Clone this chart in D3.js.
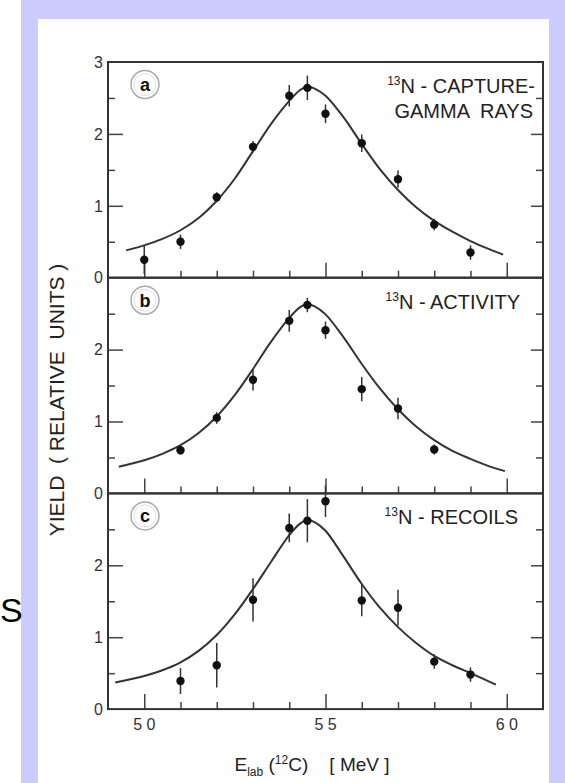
<!DOCTYPE html>
<html>
<head>
<meta charset="utf-8">
<script src="https://cdn.jsdelivr.net/npm/d3@7"></script>
<style>
body { margin: 0; background: #fff; }
text { font-family: "Liberation Sans", Arial, Helvetica, sans-serif; }
</style>
</head>
<body>
<div id="chart"></div>
<script>
const width = 565,
    height = 783
const frame = { left: 108, right: 543, top: 62, panelH: 215.7 }

// beam energy of each measured point, MeV
const energyA = [50, 51, 52, 53, 54, 54.5, 55, 56, 57, 58, 59]
const yieldA = [0.25, 0.50, 1.12, 1.82, 2.53, 2.64, 2.28, 1.87, 1.37, 0.74, 0.35]
const errA = [0.2, 0.10, 0.07, 0.08, 0.15, 0.17, 0.13, 0.12, 0.12, 0.08, 0.10]

const energyB = [51, 52, 53, 54, 54.5, 55, 56, 57, 58]
const yieldB = [0.60, 1.05, 1.58, 2.40, 2.62, 2.27, 1.45, 1.18, 0.61]
const errB = [0.06, 0.08, 0.15, 0.15, 0.10, 0.12, 0.17, 0.15, 0.07]

const energyC = [51, 52, 53, 54, 54.5, 55, 56, 57, 58, 59]
const yieldC = [0.39, 0.61, 1.52, 2.52, 2.62, 2.89, 1.51, 1.41, 0.66, 0.48]
const errC = [0.18, 0.31, 0.30, 0.20, 0.30, 0.22, 0.22, 0.25, 0.10, 0.10]

// solid curves
const fitEnergyA = [49.5, 50, 50.5, 51, 51.5, 52, 52.5, 53, 53.5, 54, 54.3, 54.5, 54.7, 55, 55.5, 56, 56.5, 57, 57.5, 58, 58.5, 59, 59.5, 59.9]
const fitYieldA = [0.38, 0.45, 0.54, 0.66, 0.83, 1.07, 1.38, 1.76, 2.14, 2.46, 2.61, 2.66, 2.63, 2.53, 2.23, 1.86, 1.51, 1.22, 0.98, 0.79, 0.64, 0.51, 0.40, 0.32]
const fitEnergyB = [49.3, 50, 50.5, 51, 51.5, 52, 52.5, 53, 53.5, 54, 54.3, 54.5, 54.7, 55, 55.5, 56, 56.5, 57, 57.5, 58, 58.5, 59, 59.5, 59.95]
const fitYieldB = [0.37, 0.46, 0.55, 0.67, 0.84, 1.07, 1.37, 1.73, 2.11, 2.44, 2.59, 2.63, 2.60, 2.49, 2.17, 1.80, 1.46, 1.17, 0.93, 0.74, 0.59, 0.48, 0.38, 0.31]
const fitEnergyC = [49.2, 50, 50.5, 51, 51.5, 52, 52.5, 53, 53.5, 54, 54.3, 54.5, 54.7, 55, 55.5, 56, 56.5, 57, 57.5, 58, 58.5, 59, 59.4, 59.7]
const fitYieldC = [0.37, 0.46, 0.54, 0.65, 0.81, 1.03, 1.32, 1.67, 2.05, 2.42, 2.58, 2.63, 2.60, 2.48, 2.12, 1.74, 1.41, 1.14, 0.92, 0.74, 0.61, 0.50, 0.41, 0.34]

const panelLetters = ['a', 'b', 'c']
const panelTitles = [['13', 'N - CAPTURE-', 'GAMMA  RAYS'], ['13', 'N - ACTIVITY'], ['13', 'N - RECOILS']]
const xMajorTicks = [50, 55, 60]
const xMinorTicks = [51, 52, 53, 54, 56, 57, 58, 59]

const panels = [
    { pts: energyA.map((e, i) => ({ e: e, v: yieldA[i], err: errA[i] })), fit: fitEnergyA.map((e, i) => ({ e: e, v: fitYieldA[i] })), labels: [0, 1, 2, 3], titleX: 535 },
    { pts: energyB.map((e, i) => ({ e: e, v: yieldB[i], err: errB[i] })), fit: fitEnergyB.map((e, i) => ({ e: e, v: fitYieldB[i] })), labels: [0, 1, 2], titleX: 520 },
    { pts: energyC.map((e, i) => ({ e: e, v: yieldC[i], err: errC[i] })), fit: fitEnergyC.map((e, i) => ({ e: e, v: fitYieldC[i] })), labels: [0, 1, 2], titleX: 518 }
]

const svg = d3.select('#chart')
    .append('svg')
    .attr('width', width)
    .attr('height', height)

// lavender page border
svg.append('rect').attr('x', 21).attr('y', 0).attr('width', width - 21).attr('height', height).attr('fill', '#ccccff')
svg.append('rect').attr('x', 38).attr('y', 19).attr('width', 511).attr('height', height - 19).attr('fill', '#fff')

svg.append('text')
    .attr('x', 0).attr('y', 622)
    .attr('font-size', 34)
    .attr('fill', '#000')
    .text('S')

const x = d3.scaleLinear().domain([49, 61]).range([frame.left, frame.right])

panels.forEach(function (p, k) {
    const top = frame.top + k * frame.panelH
    const bottom = top + frame.panelH
    const y = d3.scaleLinear().domain([0, 3]).range([bottom, top])
    const g = svg.append('g')

    // ticks (inward)
    const tickStyle = function (sel) {
        sel.select('.domain').remove()
        sel.selectAll('line').attr('stroke', '#444').attr('stroke-width', 1.5)
    }
    g.append('g').attr('transform', 'translate(' + frame.left + ',0)')
        .call(d3.axisLeft(y).tickValues([1, 2]).tickSize(-15).tickFormat(''))
        .call(tickStyle)
    g.append('g').attr('transform', 'translate(' + frame.left + ',0)')
        .call(d3.axisLeft(y).tickValues([0.5, 1.5, 2.5]).tickSize(-7).tickFormat(''))
        .call(tickStyle)
    g.append('g').attr('transform', 'translate(' + frame.right + ',0)')
        .call(d3.axisRight(y).tickValues([1, 2]).tickSize(-12).tickFormat(''))
        .call(tickStyle)
    g.append('g').attr('transform', 'translate(' + frame.right + ',0)')
        .call(d3.axisRight(y).tickValues([0.5, 1.5, 2.5]).tickSize(-7).tickFormat(''))
        .call(tickStyle)
    g.append('g').attr('transform', 'translate(0,' + bottom + ')')
        .call(d3.axisBottom(x).tickValues(xMajorTicks).tickSize(-15).tickFormat(''))
        .call(tickStyle)
    g.append('g').attr('transform', 'translate(0,' + bottom + ')')
        .call(d3.axisBottom(x).tickValues(xMinorTicks).tickSize(-7).tickFormat(''))
        .call(tickStyle)

    // y tick labels
    g.selectAll('text.ylab')
        .data(p.labels)
        .enter().append('text')
        .attr('class', 'ylab')
        .attr('x', 103)
        .attr('y', d => y(d))
        .attr('dy', '0.36em')
        .attr('text-anchor', 'end')
        .attr('font-size', 16)
        .attr('fill', '#333')
        .text(d => d)

    // frame
    g.append('rect')
        .attr('x', frame.left).attr('y', top)
        .attr('width', frame.right - frame.left).attr('height', frame.panelH)
        .attr('fill', 'none').attr('stroke', '#333').attr('stroke-width', 2)

    // fitted curve
    const line = d3.line()
        .x(d => x(d.e))
        .y(d => y(d.v))
        .curve(d3.curveCatmullRom.alpha(0.5))
    g.append('path')
        .datum(p.fit)
        .attr('d', line)
        .attr('fill', 'none')
        .attr('stroke', '#333')
        .attr('stroke-width', 2)

    // error bars + points
    g.selectAll('line.err')
        .data(p.pts)
        .enter().append('line')
        .attr('class', 'err')
        .attr('x1', d => x(d.e)).attr('x2', d => x(d.e))
        .attr('y1', d => y(d.v - d.err)).attr('y2', d => y(d.v + d.err))
        .attr('stroke', '#333').attr('stroke-width', 1.5)
    g.selectAll('circle.pt')
        .data(p.pts)
        .enter().append('circle')
        .attr('class', 'pt')
        .attr('cx', d => x(d.e)).attr('cy', d => y(d.v))
        .attr('r', 4.2)
        .attr('fill', '#111')

    // circled panel letter
    const cy = top + 22.5
    g.append('circle').attr('cx', 145).attr('cy', cy).attr('r', 14)
        .attr('fill', 'none').attr('stroke', '#aaa').attr('stroke-width', 1.5)
    g.append('circle').attr('cx', 145).attr('cy', cy).attr('r', 11)
        .attr('fill', 'none').attr('stroke', '#ddd').attr('stroke-width', 1)
    g.append('text')
        .attr('x', 145).attr('y', cy)
        .attr('dy', '0.35em')
        .attr('text-anchor', 'middle')
        .attr('font-size', 18)
        .attr('font-weight', 'bold')
        .attr('fill', '#111')
        .text(panelLetters[k])

    // title
    const t = panelTitles[k]
    const title = g.append('text')
        .attr('x', p.titleX).attr('y', top + 31)
        .attr('text-anchor', 'end')
        .attr('font-size', 20)
        .attr('fill', '#222')
    title.append('tspan').attr('font-size', 12).attr('dy', -8).text(t[0])
    title.append('tspan').attr('dy', 8).text(t[1])
    if (t[2]) {
        g.append('text')
            .attr('x', 533).attr('y', top + 56)
            .attr('text-anchor', 'end')
            .attr('font-size', 20)
            .attr('fill', '#222')
            .style('white-space', 'pre')
            .text(t[2])
    }
})

// x tick labels under the last panel
const base = frame.top + 3 * frame.panelH
svg.selectAll('text.xlab')
    .data(xMajorTicks)
    .enter().append('text')
    .attr('class', 'xlab')
    .attr('x', d => x(d))
    .attr('y', base + 21)
    .attr('text-anchor', 'middle')
    .attr('font-size', 16)
    .attr('fill', '#333')
    .text(d => String(d).split('').join(' '))

// axis titles
const xTitle = svg.append('text')
    .attr('x', 312).attr('y', 771)
    .attr('text-anchor', 'middle')
    .attr('font-size', 19)
    .attr('fill', '#222')
    .style('white-space', 'pre')
xTitle.append('tspan').text('E')
xTitle.append('tspan').attr('font-size', 12).attr('dy', 5).text('lab')
xTitle.append('tspan').attr('dy', -5).text(' (')
xTitle.append('tspan').attr('font-size', 12).attr('dy', -7).text('12')
xTitle.append('tspan').attr('dy', 7).text('C)    [ MeV ]')

svg.append('text')
    .attr('transform', 'translate(64,400) rotate(-90)')
    .attr('text-anchor', 'middle')
    .attr('font-size', 21)
    .attr('fill', '#222')
    .style('white-space', 'pre')
    .text('YIELD  ( RELATIVE  UNITS )')
</script>
</body>
</html>
